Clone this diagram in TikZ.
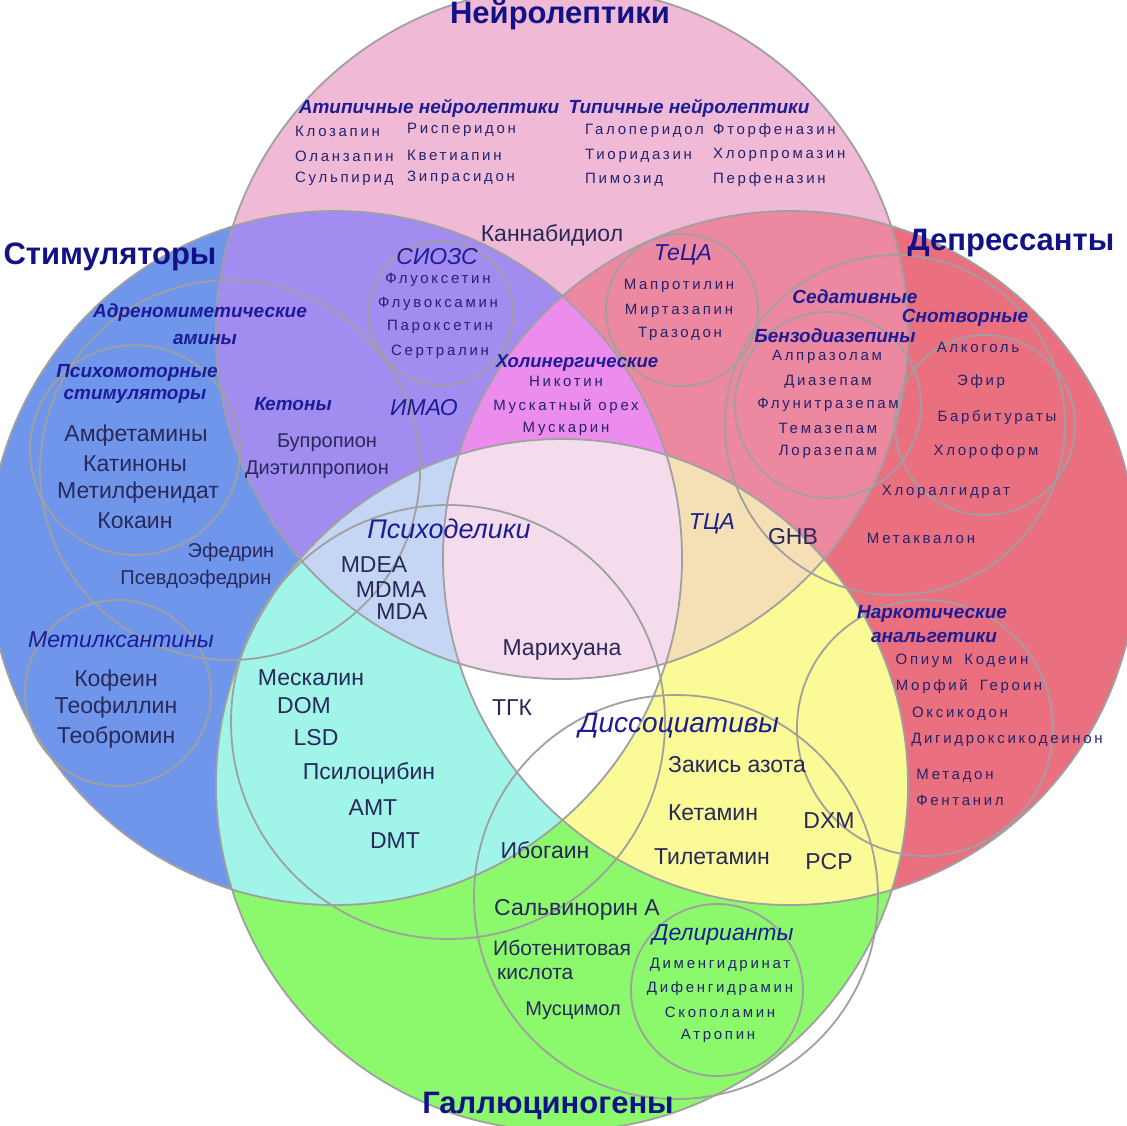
\documentclass[tikz,border=0pt]{standalone}
\usepackage{fontspec}
\setmainfont{Liberation Sans}
\newfontfamily\spfont[LetterSpace=18]{Liberation Sans}
\definecolor{cP}{RGB}{240,186,214}
\definecolor{cB}{RGB}{112,150,236}
\definecolor{cR}{RGB}{234,112,128}
\definecolor{cG}{RGB}{140,248,108}
\definecolor{cPB}{RGB}{162,140,240}
\definecolor{cPR}{RGB}{236,136,160}
\definecolor{cBG}{RGB}{160,244,232}
\definecolor{cRG}{RGB}{250,250,150}
\definecolor{cPBR}{RGB}{236,140,236}
\definecolor{cBRG}{RGB}{255,255,255}
\definecolor{cPBG}{RGB}{196,214,244}
\definecolor{cPRG}{RGB}{244,224,180}
\definecolor{cAll}{RGB}{244,220,236}
\definecolor{lineg}{RGB}{160,160,160}
\definecolor{ttlc}{RGB}{18,18,135}
\definecolor{catc}{RGB}{28,28,150}
\definecolor{drugc}{RGB}{35,35,110}
\definecolor{bigc}{RGB}{40,40,90}
\begin{document}
\begin{tikzpicture}[x=1pt,y=-1pt,
  outl/.style={draw=lineg, line width=1.8pt},
  ttl/.style={font=\fontsize{31}{31}\selectfont\bfseries, text=ttlc, inner sep=0pt},
  cat/.style={font=\fontsize{19}{19}\selectfont\bfseries\itshape, text=catc, inner sep=0pt},
  cati/.style={font=\fontsize{23}{23}\selectfont\itshape, text=catc, inner sep=0pt},
  sdrug/.style={font=\spfont\fontsize{15}{15}\selectfont, text=drugc, inner sep=0pt},
  bdrug/.style={font=\fontsize{23}{23}\selectfont, text=bigc, inner sep=0pt},
  mdrug/.style={font=\fontsize{20}{20}\selectfont, text=bigc, inner sep=0pt},
]
\useasboundingbox (0,0) rectangle (1127,1125);
\fill[white] (0,0) rectangle (1127,1125);
\def\Pc{(562,333) circle (346pt)}
\def\Bc{(335,558) circle (347pt)}
\def\Rc{(790,558) circle (347pt)}
\def\Gc{(562,785) circle (346pt)}
% single
\fill[cP] \Pc; \fill[cB] \Bc; \fill[cR] \Rc; \fill[cG] \Gc;
% pairs
\begin{scope}\clip \Pc; \fill[cPB] \Bc; \end{scope}
\begin{scope}\clip \Pc; \fill[cPR] \Rc; \end{scope}
\begin{scope}\clip \Bc; \fill[cBG] \Gc; \end{scope}
\begin{scope}\clip \Rc; \fill[cRG] \Gc; \end{scope}
% triples
\begin{scope}\clip \Pc; \clip \Bc; \fill[cPBR] \Rc; \end{scope}
\begin{scope}\clip \Bc; \clip \Rc; \fill[cBRG] \Gc; \end{scope}
\begin{scope}\clip \Pc; \clip \Bc; \fill[cPBG] \Gc; \end{scope}
\begin{scope}\clip \Pc; \clip \Rc; \fill[cPRG] \Gc; \end{scope}
% all four
\begin{scope}\clip \Pc; \clip \Bc; \clip \Rc; \fill[cAll] \Gc; \end{scope}
% outlines of the four big circles
\draw[outl] \Pc; \draw[outl] \Bc; \draw[outl] \Rc; \draw[outl] \Gc;
% sub-circles
\draw[outl] (441,313) circle (72pt);   % SSRI
\draw[outl] (682,310) circle (76pt);   % TeCA
\draw[outl] (828,405) circle (93pt);   % benzo
\draw[outl] (895,425) circle (170pt);  % sedatives
\draw[outl] (985,425) circle (90pt);   % hypnotics
\draw[outl] (925,728) circle (128pt);  % narcotic analgesics
\draw[outl] (135,450) circle (105pt);  % psychomotor
\draw[outl] (118,693) circle (93pt);   % methylxanthines
\draw[outl] (230,470) circle (190pt);  % adrenomimetic
\draw[outl] (448,722) circle (217pt);  % psychedelics
\draw[outl] (676,897) circle (202pt);  % dissociatives
\draw[outl] (717,990) circle (86pt);   % deliriants
% titles
\node[ttl] (tN) at (560,15) {Нейролептики};
\node[ttl] (tS) at (110,257) {Стимуляторы};
\node[ttl] (tD) at (1011,243) {Депрессанты};
\node[ttl] (tH) at (548,1106) {Галлюциногены};
% neuroleptics
\node[cat] (cA) at (429,108) {Атипичные нейролептики};
\node[cat] (cT) at (689,108) {Типичные нейролептики};
\node[sdrug, anchor=west] (n1) at (295,131) {Клозапин};
\node[sdrug, anchor=west] (n2) at (295,156) {Оланзапин};
\node[sdrug, anchor=west] (n3) at (295,179) {Сульпирид};
\node[sdrug, anchor=west] (n4) at (407,130) {Рисперидон};
\node[sdrug, anchor=west] (n5) at (407,155) {Кветиапин};
\node[sdrug, anchor=west] (n6) at (407,178) {Зипрасидон};
\node[sdrug, anchor=west] (n7) at (585,131) {Галоперидол};
\node[sdrug, anchor=west] (n8) at (585,156) {Тиоридазин};
\node[sdrug, anchor=west] (n9) at (585,180) {Пимозид};
\node[sdrug, anchor=west] (n10) at (713,131) {Фторфеназин};
\node[sdrug, anchor=west] (n11) at (713,155) {Хлорпромазин};
\node[sdrug, anchor=west] (n12) at (713,180) {Перфеназин};
\node[bdrug] (kb) at (552,235) {Каннабидиол};
% SSRI
\node[cati] (cSS) at (437,257) {СИОЗС};
\node[sdrug] (s1) at (438,280) {Флуоксетин};
\node[sdrug] (s2) at (438,304) {Флувоксамин};
\node[sdrug] (s3) at (440,327) {Пароксетин};
\node[sdrug] (s4) at (440,352) {Сертралин};
% TeCA
\node[cati] (cTe) at (683,255) {ТеЦА};
\node[sdrug] (te1) at (679,286) {Мапротилин};
\node[sdrug] (te2) at (679,311) {Миртазапин};
\node[sdrug] (te3) at (680,334) {Тразодон};
% cholinergic
\node[cat, font=\fontsize{18.5}{18.5}\selectfont\bfseries\itshape] (cCh) at (577,363) {Холинергические};
\node[sdrug] (ch1) at (566,381) {Никотин};
\node[sdrug] (ch2) at (566,406) {Мускатный орех};
\node[sdrug] (ch3) at (566,429) {Мускарин};
% stimulants
\node[cati] (cMA) at (424,408) {ИМАО};
\node[cat] (cKe) at (293,404) {Кетоны};
\node[mdrug] (k1) at (327,443) {Бупропион};
\node[mdrug] (k2) at (317,470) {Диэтилпропион};
\node[cat] (cAd1) at (200,313) {Адреномиметические};
\node[cat] (cAd2) at (205,339) {амины};
\node[cat] (cPs1) at (137,373) {Психомоторные};
\node[cat] (cPs2) at (135,396) {стимуляторы};
\node[bdrug] (a1) at (136,436) {Амфетамины};
\node[bdrug] (a2) at (135,464) {Катиноны};
\node[bdrug] (a3) at (138,493) {Метилфенидат};
\node[bdrug] (a4) at (135,521) {Кокаин};
\node[mdrug] (e1) at (231,552) {Эфедрин};
\node[mdrug] (e2) at (196,579) {Псевдоэфедрин};
\node[cati] (cMx) at (121,640) {Метилксантины};
\node[bdrug] (x1) at (116,681) {Кофеин};
\node[bdrug] (x2) at (116,708) {Теофиллин};
\node[bdrug] (x3) at (116,737) {Теобромин};
% psychedelics
\node[cati, font=\fontsize{27}{27}\selectfont\itshape] (cPd) at (449,529) {Психоделики};
\node[bdrug] (m1) at (374,565) {MDEA};
\node[bdrug] (m2) at (391,590) {MDMA};
\node[bdrug] (m3) at (402,612) {MDA};
\node[bdrug] (p1) at (311,678) {Мескалин};
\node[bdrug] (p2) at (304,706) {DOM};
\node[bdrug] (p3) at (316,738) {LSD};
\node[bdrug] (p4) at (369,773) {Псилоцибин};
\node[bdrug] (p5) at (373,808) {AMT};
\node[bdrug] (p6) at (395,841) {DMT};
\node[bdrug] (mj) at (562,650) {Марихуана};
\node[bdrug] (thc) at (512,708) {ТГК};
% depressants
\node[cati] (cTCA) at (712,524) {ТЦА};
\node[bdrug] (ghb) at (793,537) {GHB};
\node[cat] (cSe) at (855,297) {Седативные};
\node[cat] (cSn) at (965,318) {Снотворные};
\node[cat] (cBz) at (835,336) {Бензодиазепины};
\node[sdrug] (b1) at (827,357) {Алпразолам};
\node[sdrug] (b2) at (828,382) {Диазепам};
\node[sdrug] (b3) at (828,405) {Флунитразепам};
\node[sdrug] (b4) at (828,428) {Темазепам};
\node[sdrug] (b5) at (828,452) {Лоразепам};
\node[sdrug] (h1) at (978,347) {Алкоголь};
\node[sdrug] (h2) at (981,382) {Эфир};
\node[sdrug] (h3) at (997,418) {Барбитураты};
\node[sdrug] (h4) at (986,452) {Хлороформ};
\node[sdrug] (h5) at (946,492) {Хлоралгидрат};
\node[sdrug] (h6) at (921,538) {Метаквалон};
\node[cat] (cNa1) at (932,614) {Наркотические};
\node[cat] (cNa2) at (934,637) {анальгетики};
\node[sdrug] (o1) at (962,661) {Опиум\hspace{12pt}Кодеин};
\node[sdrug] (o2) at (969,686) {Морфий\hspace{12pt}Героин};
\node[sdrug] (o3) at (960,714) {Оксикодон};
\node[sdrug] (o4) at (1007,740) {Дигидроксикодеинон};
\node[sdrug] (o5) at (955,776) {Метадон};
\node[sdrug] (o6) at (960,800) {Фентанил};
% dissociatives
\node[cati, font=\fontsize{28}{28}\selectfont\itshape] (cDi) at (679,726) {Диссоциативы};
\node[bdrug] (d1) at (737,765) {Закись азота};
\node[bdrug] (d2) at (713,813) {Кетамин};
\node[bdrug] (d3) at (712,857) {Тилетамин};
\node[bdrug] (d4) at (829,821) {DXM};
\node[bdrug] (d5) at (829,862) {PCP};
\node[bdrug] (ib) at (545,850) {Ибогаин};
\node[bdrug] (sa) at (577,910) {Сальвинорин А};
\node[mdrug, font=\fontsize{21}{21}\selectfont, anchor=west] (it1) at (493,948) {Иботенитовая};
\node[mdrug, font=\fontsize{21}{21}\selectfont, anchor=west] (it2) at (497,974) {кислота};
\node[mdrug] (mu) at (573,1011) {Мусцимол};
% deliriants
\node[cati] (cDe) at (723,935) {Делирианты};
\node[sdrug] (de1) at (720,965) {Дименгидринат};
\node[sdrug] (de2) at (720,989) {Дифенгидрамин};
\node[sdrug] (de3) at (720,1012) {Скополамин};
\node[sdrug] (de4) at (718,1036) {Атропин};
\end{tikzpicture}
\end{document}
